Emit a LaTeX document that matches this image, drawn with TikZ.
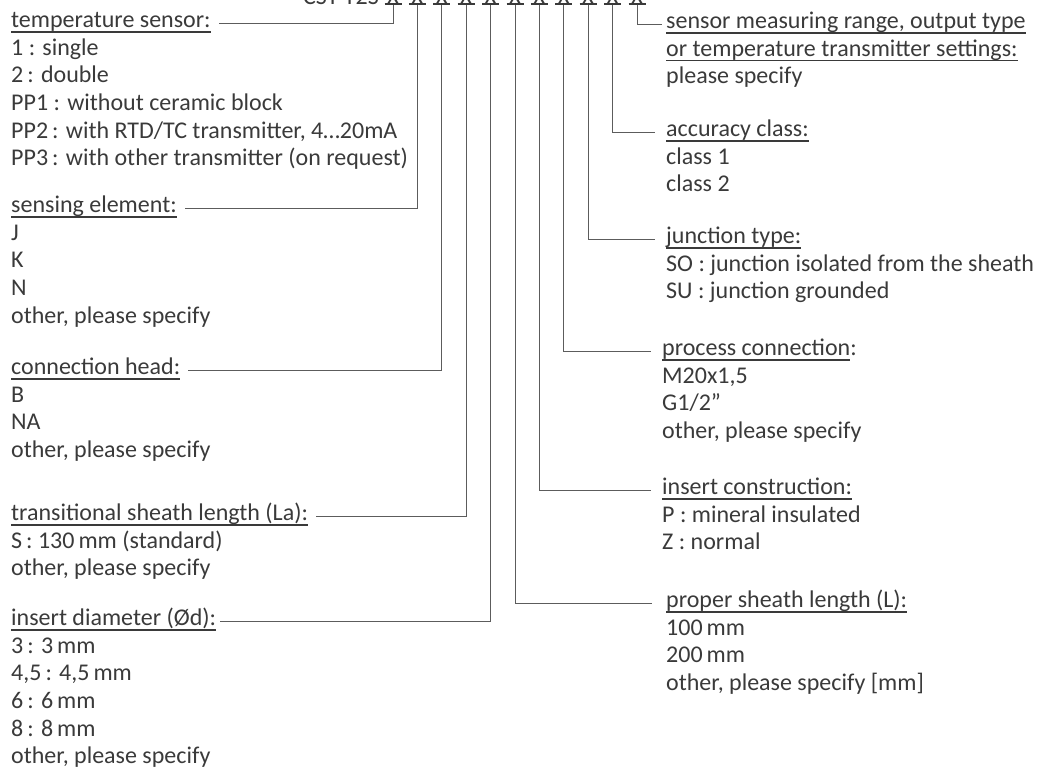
\documentclass[tikz,border=0pt]{standalone}
\usepackage{fontspec}
\setmainfont{Carlito}
\usetikzlibrary{calc}
\definecolor{ink}{HTML}{3A3A3A}
\definecolor{wire}{HTML}{5C5C5C}
\newcommand\ulhead[1]{\setbox0\hbox{#1}\rlap{\rule[-5pt]{\wd0}{1.5pt}}\box0}
\newcommand\topline{\rule{0pt}{20pt}}

\begin{document}
\begin{tikzpicture}[
  x=1pt, y=-1pt,
  font=\fontsize{24}{27.6}\selectfont, text=ink,
  hdr/.style={anchor=base west, inner sep=0pt},
  opts/.style={anchor=north west, inner sep=0pt, align=left},
  xmark/.style={anchor=base, inner sep=0pt},
  lead/.style={draw=wire, line width=1pt},
]
\useasboundingbox (0,0) rectangle (1038,782);

% ---------- order code ----------
\node[anchor=base east, inner sep=0pt] (cst) at (379,4) {CST-T2S};
\foreach \i in {1,...,11}
  \node[xmark] (x\i) at ({393+24.4*(\i-1)},4)
    {\rlap{\rule[-1pt]{17pt}{1.6pt}}\makebox[17pt]{X}};

% ---------- left column ----------
\node[hdr] (tsens) at (11,27.5) {\ulhead{temperature sensor:}};
\node[opts] (tsensl) at ([yshift=-7.6pt]tsens.base west)
  {\topline 1 : single\\2\,: double\\PP1 : without ceramic block\\
   PP2\,: with RTD/TC transmitter, 4…20mA\\PP3\,: with other transmitter (on request)};

\node[hdr] (elem) at (11,212.5) {\ulhead{sensing element:}};
\node[opts] (eleml) at ([yshift=-7.6pt]elem.base west)
  {\topline J\\K\\N\\other, please specify};

\node[hdr] (head) at (11,374.5) {\ulhead{connection head:}};
\node[opts] (headl) at ([yshift=-7.6pt]head.base west)
  {\topline B\\NA\\other, please specify};

\node[hdr] (trans) at (11,520.5) {\ulhead{transitional sheath length (La):}};
\node[opts] (transl) at ([yshift=-7.6pt]trans.base west)
  {\topline S\,: 130\,mm (standard)\\other, please specify};

\node[hdr] (diam) at (11,625.5) {\ulhead{insert diameter (Ød):}};
\node[opts] (diaml) at ([yshift=-7.6pt]diam.base west)
  {\topline 3\,: 3\,mm\\4,5\,: 4,5\,mm\\6\,: 6\,mm\\8\,: 8\,mm\\other, please specify};

% ---------- right column ----------
\node[hdr] (range) at (666,28.5) {\ulhead{sensor measuring range, output type}};
\node[opts] (rangel) at ([yshift=-7.6pt]range.base west)
  {\topline\ulhead{or temperature transmitter settings:}\\please specify};

\node[hdr] (acc) at (666,136.5) {\ulhead{accuracy class:}};
\node[opts] (accl) at ([yshift=-7.6pt]acc.base west)
  {\topline class 1\\class 2};

\node[hdr] (junc) at (666,243.5) {\ulhead{junction type:}};
\node[opts] (juncl) at ([yshift=-7.6pt]junc.base west)
  {\topline SO : junction isolated from the sheath\\SU : junction grounded};

\node[hdr] (proc) at (662,355.5) {\ulhead{process connection}:};
\node[opts] (procl) at ([yshift=-7.6pt]proc.base west)
  {\topline M20x1,5\\G1/2”\\other, please specify};

\node[hdr] (ins) at (662,494.5) {\ulhead{insert construction:}};
\node[opts] (insl) at ([yshift=-7.6pt]ins.base west)
  {\topline P : mineral insulated\\Z : normal};

\node[hdr] (sheath) at (666,607.5) {\ulhead{proper sheath length (L):}};
\node[opts] (sheathl) at ([yshift=-7.6pt]sheath.base west)
  {\topline 100\,mm\\200\,mm\\other, please specify [mm]};

% ---------- leads ----------
\draw[lead] (x1.south) |- ($(tsens.base east)+(8pt,4.5pt)$);
\draw[lead] (x2.south) |- ($(elem.base east)+(8pt,4.5pt)$);
\draw[lead] (x3.south) |- ($(head.base east)+(8pt,4.5pt)$);
\draw[lead] (x4.south) |- ($(trans.base east)+(8pt,4.5pt)$);
\draw[lead] (x5.south) |- ($(diam.base east)+(4pt,4.5pt)$);
\draw[lead] (x6.south) |- ($(sheath.base west)+(-14pt,4.5pt)$);
\draw[lead] (x7.south) |- ($(ins.base west)+(-11pt,4.5pt)$);
\draw[lead] (x8.south) |- ($(proc.base west)+(-11pt,4.5pt)$);
\draw[lead] (x9.south) |- ($(junc.base west)+(-11pt,4.5pt)$);
\draw[lead] (x10.south) |- ($(acc.base west)+(-11pt,4.5pt)$);
\draw[lead] (x11.south) |- ($(range.base west)+(-4pt,4.5pt)$);
\end{tikzpicture}
\end{document}
